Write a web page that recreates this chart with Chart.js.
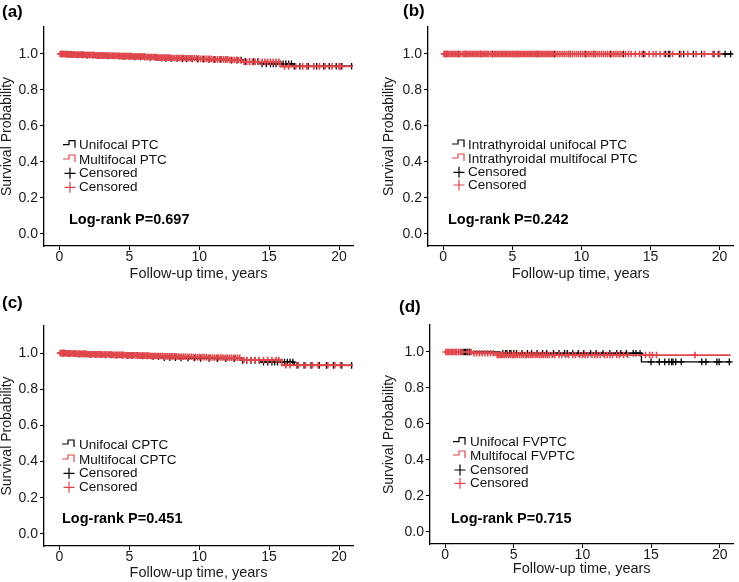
<!DOCTYPE html>
<html><head><meta charset="utf-8">
<script src="https://cdn.jsdelivr.net/npm/chart.js@4.4.1/dist/chart.umd.min.js"></script>
<style>
html,body{margin:0;padding:0;background:#fff;}
#wrap{position:relative;width:739px;height:582px;overflow:hidden;background:#fff;}
canvas{position:absolute;}
</style></head><body><div id="wrap"></div>
<script>
// ---------- shared ticks ----------
const xTicks = [0, 5, 10, 15, 20];
const yTicks = [0, 0.2, 0.4, 0.6, 0.8, 1.0];

// ---------- panel (a) ----------
const aUniT = [0, 0.6, 1.2, 1.9, 2.7, 3.5, 4.4, 5.3, 6.2, 7.1, 7.6, 8.6, 9.6, 10.6, 12.0, 13.1, 14.5, 16.8, 21];
const aUniS = [1.0, 0.997, 0.995, 0.993, 0.991, 0.989, 0.987, 0.984, 0.981, 0.978, 0.975, 0.973, 0.971, 0.969, 0.966, 0.958, 0.945, 0.932, 0.932];
const aMulT = [0, 0.5, 1.1, 1.8, 2.6, 3.4, 4.3, 5.2, 6.1, 7.0, 8.0, 9.0, 10.0, 11.0, 12.1, 13.0, 15.8, 21];
const aMulS = [1.0, 0.998, 0.996, 0.994, 0.992, 0.990, 0.988, 0.986, 0.983, 0.980, 0.978, 0.976, 0.973, 0.970, 0.967, 0.956, 0.931, 0.931];
const aUniC = [0.2,0.55,0.9,1.3,1.65,2.0,2.4,2.8,3.1,3.5,3.9,4.3,4.6,5.0,5.4,5.8,6.1,6.5,6.9,7.3,7.6,8.0,8.4,8.8,9.1,9.5,9.9,10.3,10.7,11.1,11.5,11.9,12.3,12.7,13.0,13.3,13.6,13.9,14.2,14.5,14.8,15.1,15.3,15.5,15.8,16.0,16.2,16.4,16.6,16.8,17.2,17.8,18.4,18.9,19.3,19.8,20.2,20.9];
const aMulC = [0.05,0.12,0.2,0.28,0.35,0.43,0.5,0.58,0.66,0.73,0.8,0.9,0.98,1.05,1.13,1.2,1.3,1.38,1.45,1.53,1.6,1.7,1.78,1.86,1.93,2.0,2.1,2.18,2.26,2.35,2.42,2.5,2.6,2.68,2.76,2.85,2.93,3.0,3.1,3.2,3.28,3.36,3.45,3.53,3.6,3.7,3.8,3.88,3.96,4.05,4.13,4.2,4.3,4.4,4.48,4.56,4.65,4.73,4.8,4.9,5.0,5.08,5.16,5.25,5.33,5.4,5.5,5.6,5.68,5.76,5.85,5.93,6.0,6.1,6.2,6.3,6.4,6.5,6.6,6.7,6.8,6.9,7.0,7.1,7.2,7.3,7.4,7.5,7.6,7.7,7.8,7.9,8.0,8.12,8.25,8.37,8.5,8.62,8.75,8.87,9.0,9.12,9.25,9.37,9.5,9.65,9.8,9.95,10.1,10.25,10.4,10.55,10.7,10.85,11.0,11.15,11.3,11.45,11.6,11.75,11.9,12.05,12.2,12.35,12.5,12.65,12.8,12.95,13.2,13.4,13.6,13.8,14.0,14.25,14.5,14.7,14.9,15.1,15.3,15.5,15.7,16.1,16.4,16.9,17.4,17.7,18.2,18.6,19.0,19.5,20.0,20.1];

// ---------- panel (b) ----------
const bUniT = [0, 20.8];
const bUniS = [1.0, 1.0];
const bMulT = [0, 20.0];
const bMulS = [1.0, 1.0];
const bUniC = [0.24,1.07,1.6,2.7,3.56,5.3,6.8,8.07,9.2,10.3,10.9,12.1,13.05,14.5,16.1,16.3,16.4,17.1,17.4,18.1,18.7,19.6,19.9,20.4,20.8];
const bMulC = [0.05,0.12,0.2,0.3,0.4,0.5,0.6,0.7,0.8,0.9,1.0,1.15,1.25,1.4,1.5,1.6,1.7,1.8,1.9,2.0,2.1,2.2,2.3,2.4,2.5,2.6,2.7,2.8,2.9,3.0,3.1,3.2,3.3,3.45,3.6,3.7,3.8,3.9,4.0,4.1,4.2,4.3,4.4,4.5,4.6,4.7,4.8,4.9,5.0,5.1,5.2,5.3,5.4,5.5,5.6,5.7,5.8,5.9,6.0,6.1,6.2,6.3,6.4,6.5,6.6,6.7,6.8,6.9,7.0,7.1,7.2,7.3,7.4,7.5,7.6,7.7,7.8,7.9,8.0,8.15,8.3,8.45,8.6,8.75,8.9,9.05,9.2,9.35,9.5,9.65,9.8,9.95,10.1,10.25,10.4,10.55,10.7,10.85,11.0,11.15,11.3,11.45,11.6,11.75,11.9,12.05,12.2,12.35,12.5,12.65,12.8,12.95,13.2,13.4,13.6,13.9,14.2,14.4,14.6,14.9,15.2,15.4,15.7,16.0,16.6,17.2,17.7,18.3,18.9,19.5,20.0];

// ---------- panel (c) ----------
const cUniT = [0, 0.6, 1.3, 2.1, 3.0, 3.9, 4.8, 5.7, 6.6, 7.5, 8.6, 9.8, 11.0, 13.1, 14.4, 16.8, 21];
const cUniS = [1.0, 0.997, 0.995, 0.993, 0.990, 0.988, 0.986, 0.984, 0.981, 0.975, 0.973, 0.971, 0.969, 0.960, 0.950, 0.932, 0.932];
const cMulT = [0, 0.5, 1.2, 2.0, 2.9, 3.8, 4.7, 5.6, 6.5, 7.4, 8.4, 9.5, 10.6, 11.8, 13.1, 15.9, 21];
const cMulS = [1.0, 0.998, 0.996, 0.994, 0.992, 0.990, 0.988, 0.986, 0.984, 0.982, 0.980, 0.978, 0.976, 0.974, 0.962, 0.933, 0.933];
const cUniC = [0.3,0.7,1.1,1.45,1.8,2.2,2.6,2.95,3.3,3.7,4.1,4.5,4.9,5.2,5.6,5.95,6.3,6.7,7.1,7.5,7.9,8.3,8.7,9.2,9.65,10.1,10.7,11.3,11.9,12.5,13.1,13.4,13.7,14.0,14.3,14.6,14.9,15.2,15.4,15.6,15.9,16.1,16.3,16.5,16.7,17.0,17.5,18.0,18.6,19.1,19.6,20.2,20.9];
const cMulC = [0.05,0.13,0.2,0.28,0.36,0.44,0.52,0.6,0.68,0.76,0.84,0.92,1.0,1.1,1.18,1.26,1.34,1.42,1.5,1.6,1.68,1.76,1.84,1.92,2.0,2.1,2.18,2.26,2.34,2.42,2.5,2.6,2.68,2.76,2.84,2.92,3.0,3.1,3.2,3.3,3.4,3.5,3.6,3.7,3.8,3.9,4.0,4.1,4.2,4.3,4.4,4.5,4.6,4.7,4.8,4.9,5.0,5.1,5.2,5.3,5.4,5.5,5.6,5.7,5.8,5.9,6.0,6.1,6.2,6.3,6.4,6.5,6.6,6.7,6.8,6.9,7.0,7.12,7.25,7.37,7.5,7.62,7.75,7.87,8.0,8.12,8.25,8.37,8.5,8.62,8.75,8.87,9.0,9.15,9.3,9.45,9.6,9.75,9.9,10.05,10.2,10.35,10.5,10.65,10.8,10.95,11.1,11.25,11.4,11.55,11.7,11.85,12.0,12.15,12.3,12.45,12.6,12.75,12.9,13.2,13.4,13.7,14.0,14.3,14.6,14.9,15.2,15.5,15.7,16.2,16.5,17.1,17.6,18.1,18.5,19.2,19.7,20.1];

// ---------- panel (d) ----------
const dUniT = [0, 4.0, 14.3, 20.8];
const dUniS = [1.0, 0.993, 0.945, 0.945];
const dMulT = [0, 2.0, 3.7, 20.8];
const dMulS = [1.0, 0.993, 0.983, 0.983];
const dUniC = [1.3,1.4,1.5,1.6,1.7,1.8,4.2,4.4,4.5,4.7,4.8,5.0,5.2,5.6,6.0,6.3,6.7,7.1,7.4,7.9,8.3,8.7,8.9,9.3,9.7,10.1,10.6,11.0,11.5,12.0,12.5,12.8,13.2,13.7,13.9,14.2,15.0,15.6,16.0,16.3,16.5,16.6,16.8,17.2,18.7,19.0,19.8,19.96,20.7];
const dMulC = [0.05,0.15,0.25,0.35,0.45,0.55,0.65,0.75,0.85,1.0,1.1,1.2,1.7,1.9,2.1,2.3,2.5,2.7,2.9,3.1,3.3,3.5,3.8,3.9,4.0,4.1,4.2,4.3,4.45,4.6,4.75,4.9,5.0,5.1,5.25,5.4,5.55,5.7,5.85,5.95,6.1,6.25,6.4,6.55,6.7,6.85,7.0,7.15,7.3,7.45,7.6,7.8,8.0,8.3,8.5,8.8,9.0,9.3,9.5,9.8,10.0,10.2,10.4,10.7,10.9,11.1,11.3,11.6,11.8,12.0,12.2,12.5,12.7,13.0,13.3,14.6,14.9,15.1,15.4,18.2];

// ---------- texts ----------
const panelLabels = ['(a)', '(b)', '(c)', '(d)'];
const legendTexts = [
  ['Unifocal PTC', 'Multifocal PTC', 'Censored', 'Censored'],
  ['Intrathyroidal unifocal PTC', 'Intrathyroidal multifocal PTC', 'Censored', 'Censored'],
  ['Unifocal CPTC', 'Multifocal CPTC', 'Censored', 'Censored'],
  ['Unifocal FVPTC', 'Multifocal FVPTC', 'Censored', 'Censored']
];
const pTexts = ['Log-rank P=0.697', 'Log-rank P=0.242', 'Log-rank P=0.451', 'Log-rank P=0.715'];
const xTitle = 'Follow-up time, years';
const yTitle = 'Survival Probability';

// ---------- style / layout ----------
const BLACK = '#000000';
const RED = '#E0474C';
const FONT = '"Liberation Sans", Arial, Helvetica, sans-serif';
const X_MIN = -1.1, X_MAX = 21;
const Y_MIN = -0.067, Y_MAX = 1.15;

const layouts = [
  {box:[0,0,370,290],   area:[44,27,353,246], xPad:7.3, yPad:-1, lab:[2,12],  leg:{gx:63, tx:79, rows:[145.7,160,173.3,187.3]}, p:[69,220]},
  {box:[370,0,369,290], area:[58,27,367,246], xPad:7.3, yPad:11, lab:[33,11], leg:{gx:82, tx:98, rows:[145,159,172.3,185]},     p:[78,220]},
  {box:[0,290,370,292], area:[44,36,353,256], xPad:0.5, yPad:-1, lab:[2,13],  leg:{gx:62, tx:79, rows:[155,170,183.3,197.3]},   p:[62,229.3]},
  {box:[370,290,369,292],area:[60,35,367,254], xPad:4.3, yPad:11, lab:[29,17], leg:{gx:83, tx:100, rows:[152.7,166,180,193.3]},  p:[81,229.3]}
];

const series = [
  [aUniT,aUniS,aMulT,aMulS,aUniC,aMulC],
  [bUniT,bUniS,bMulT,bMulS,bUniC,bMulC],
  [cUniT,cUniS,cMulT,cMulS,cUniC,cMulC],
  [dUniT,dUniS,dMulT,dMulS,dUniC,dMulC]
];

function toPts(T, S){ return T.map((t,i)=>({x:t, y:S[i]})); }
function stepAt(T, S, t){ let s=S[0]; for(let i=0;i<T.length;i++){ if(T[i]<=t) s=S[i]; else break; } return s; }
function censorPts(C, T, S){ return C.map(t=>({x:t, y:stepAt(T,S,t)})); }

function textPlugin(idx){
  const L = layouts[idx];
  return {
    id:'kmText'+idx,
    afterDraw(chart){
      const ctx = chart.ctx;
      ctx.save();
      ctx.fillStyle = '#000';
      ctx.textBaseline = 'middle';
      ctx.textAlign = 'left';
      ctx.font = 'bold 17px ' + FONT;
      ctx.fillText(panelLabels[idx], L.lab[0], L.lab[1]);
      const lg = L.leg;
      ctx.font = '13.5px ' + FONT;
      const cols = [BLACK, RED, BLACK, RED];
      for(let i=0;i<4;i++){
        const yc = lg.rows[i];
        ctx.strokeStyle = cols[i];
        ctx.lineWidth = 1.2;
        ctx.beginPath();
        if(i<2){
          const x0 = lg.gx;
          ctx.moveTo(x0, yc-1); ctx.lineTo(x0+6, yc-1); ctx.lineTo(x0+6, yc-5);
          ctx.lineTo(x0+12, yc-5); ctx.lineTo(x0+12, yc+2);
        } else {
          const cx = lg.gx+7;
          ctx.moveTo(cx-5.5, yc); ctx.lineTo(cx+5.5, yc);
          ctx.moveTo(cx, yc-5.5); ctx.lineTo(cx, yc+5.5);
        }
        ctx.stroke();
        ctx.fillStyle = '#111';
        ctx.fillText(legendTexts[idx][i], lg.tx, yc);
      }
      ctx.font = 'bold 14.5px ' + FONT;
      ctx.fillStyle = '#000';
      ctx.fillText(pTexts[idx], L.p[0], L.p[1]);
      ctx.restore();
    }
  };
}

const wrap = document.getElementById('wrap');
layouts.forEach((L, idx)=>{
  const c = document.createElement('canvas');
  const [bx,by,W,H] = L.box;
  c.width = W; c.height = H;
  c.style.left = bx+'px'; c.style.top = by+'px';
  c.style.width = W+'px'; c.style.height = H+'px';
  wrap.appendChild(c);
  const [l,t,r,b] = L.area;
  const [uT,uS,mT,mS,uC,mC] = series[idx];
  // Chart.js draws dataset 0 on top: red (multifocal) listed first so it sits above black
  new Chart(c, {
    type:'line',
    data:{datasets:[
      {data:censorPts(mC,mT,mS), showLine:false, pointStyle:'cross', pointRadius:3.3, pointBorderWidth:1.6, pointBorderColor:RED, borderColor:RED},
      {data:toPts(mT,mS), borderColor:RED, borderWidth:1.8, stepped:'before', pointRadius:0, fill:false},
      {data:censorPts(uC,uT,uS), showLine:false, pointStyle:'cross', pointRadius:3.3, pointBorderWidth:1.3, pointBorderColor:BLACK, borderColor:BLACK},
      {data:toPts(uT,uS), borderColor:BLACK, borderWidth:1.3, stepped:'before', pointRadius:0, fill:false}
    ]},
    options:{
      responsive:false, animation:false, devicePixelRatio:1,
      layout:{padding:{left:0, top:t, right:W-r, bottom:0}},
      plugins:{legend:{display:false}, tooltip:{enabled:false}, title:{display:false}},
      scales:{
        x:{
          type:'linear', min:X_MIN, max:X_MAX,
          afterFit:s=>{ s.height = H-b; },
          afterBuildTicks:s=>{ s.ticks = xTicks.map(v=>({value:v})); },
          grid:{display:true, drawOnChartArea:false, drawTicks:true, tickLength:4, color:'#000', lineWidth:1},
          border:{display:true, color:'#000', width:1.3},
          ticks:{color:'#1a1a1a', font:{family:FONT, size:14, lineHeight:1}, padding:0, maxRotation:0, autoSkip:false, callback:v=>String(v)},
          title:{display:true, text:xTitle, color:'#1a1a1a', font:{family:FONT, size:14.5, lineHeight:1.2}, padding:{top:0, bottom:L.xPad}}
        },
        y:{
          type:'linear', min:Y_MIN, max:Y_MAX,
          afterFit:s=>{ s.width = l; },
          afterBuildTicks:s=>{ s.ticks = yTicks.map(v=>({value:v})); },
          grid:{display:true, drawOnChartArea:false, drawTicks:true, tickLength:4, color:'#000', lineWidth:1},
          border:{display:true, color:'#000', width:1.3},
          ticks:{color:'#1a1a1a', font:{family:FONT, size:14}, padding:2, autoSkip:false, callback:v=>Number(v).toFixed(1)},
          title:{display:true, text:yTitle, color:'#1a1a1a', font:{family:FONT, size:14, lineHeight:1.2}, padding:{top:L.yPad, bottom:0}}
        }
      }
    },
    plugins:[textPlugin(idx)]
  });
});
</script>
</body></html>
